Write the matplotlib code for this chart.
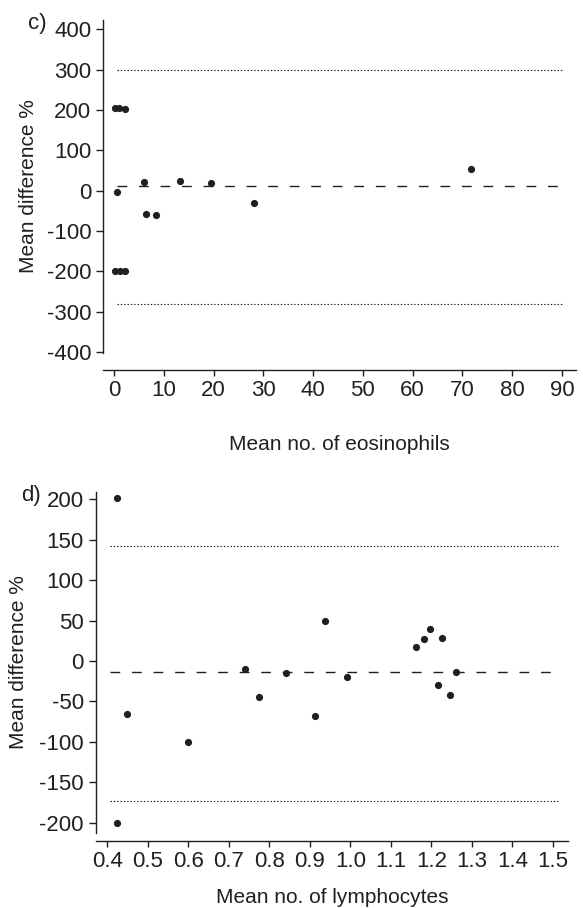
import matplotlib
matplotlib.use("Agg")
import matplotlib.pyplot as plt

plt.rcParams['font.family'] = ['Liberation Sans', 'DejaVu Sans']
plt.rcParams['axes.unicode_minus'] = False
INK = '#231f20'

# Panel c) eosinophils
eos_x = [0.2, 1.0, 2.2, 0.6, 0.3, 1.3, 2.3, 6.1, 6.4, 8.4, 13.2, 19.4, 28.1, 71.7]
eos_y = [205, 205, 202, -2, -200, -200, -200, 21, -57, -60, 25, 20, -30, 55]
eos_mean = 11
eos_upper = 300
eos_lower = -280
eos_xticks = [0, 10, 20, 30, 40, 50, 60, 70, 80, 90]
eos_yticks = [400, 300, 200, 100, 0, -100, -200, -300, -400]

# Panel d) lymphocytes
lym_x = [0.425, 0.425, 0.448, 0.599, 0.741, 0.775, 0.842, 0.914, 0.938, 0.991,
         1.162, 1.181, 1.197, 1.226, 1.216, 1.247, 1.261]
lym_y = [202, -200, -66, -100, -10, -45, -15, -68, 49, -20,
         17, 27, 39, 28, -30, -42, -13]
lym_mean = -14
lym_upper = 142
lym_lower = -173
lym_xticks = [0.4, 0.5, 0.6, 0.7, 0.8, 0.9, 1.0, 1.1, 1.2, 1.3, 1.4, 1.5]
lym_yticks = [200, 150, 100, 50, 0, -50, -100, -150, -200]

W, H = 583, 908
fig = plt.figure(figsize=(W / 100, H / 100), dpi=100)

TICK_FS = 16
LABEL_FS = 15


def px_axes(l, t, r, b):
    return fig.add_axes([l / W, 1 - b / H, (r - l) / W, (b - t) / H])


def style(ax, xoff):
    for s in ('top', 'right'):
        ax.spines[s].set_visible(False)
    for s in ('left', 'bottom'):
        ax.spines[s].set_color(INK)
        ax.spines[s].set_linewidth(1.0)
    ax.spines['bottom'].set_position(('outward', xoff))
    ax.tick_params(axis='both', direction='out', width=1.0,
                   colors=INK, labelsize=TICK_FS)
    ax.tick_params(axis='y', pad=3.5, length=5)
    ax.tick_params(axis='x', pad=3.5, length=4)


def draw(ax, xs, ys, mean, up, lo, x0, x1):
    ax.plot([x0, x1], [up, up], color=INK, lw=0.8, dashes=(1.3, 1.7))
    ax.plot([x0, x1], [lo, lo], color=INK, lw=0.8, dashes=(1.3, 1.7))
    ax.plot([x0, x1], [mean, mean], color=INK, lw=1.0, dashes=(7, 8.5))
    ax.plot(xs, ys, 'o', color=INK, ms=5.2, mec='none', ls='none')


# top panel
ax1 = px_axes(103, 20, 576, 353)
draw(ax1, eos_x, eos_y, eos_mean, eos_upper, eos_lower, 0.6, 90)
ax1.set_xlim(-2.2, 92.8)
ax1.set_ylim(-402, 423)
ax1.set_xticks(eos_xticks)
ax1.set_yticks(eos_yticks)
style(ax1, 12.2)
ax1.set_xlabel('Mean no. of eosinophils', fontsize=LABEL_FS, color=INK, labelpad=24)
ax1.set_ylabel('Mean difference %', fontsize=LABEL_FS, color=INK)
ax1.yaxis.set_label_coords(-0.138, 0.5)
fig.text(37 / W, 1 - 24 / H, 'c)', fontsize=TICK_FS, color=INK, ha='center', va='center')

# bottom panel
ax2 = px_axes(95.5, 491.7, 568.3, 833)
draw(ax2, lym_x, lym_y, lym_mean, lym_upper, lym_lower, 0.406, 1.513)
ax2.set_xlim(0.371, 1.538)
ax2.set_ylim(-212.7, 209.4)
ax2.set_xticks(lym_xticks)
ax2.set_xticklabels([f'{v:.1f}' for v in lym_xticks])
ax2.set_yticks(lym_yticks)
style(ax2, 5.8)
ax2.set_xlabel('Mean no. of lymphocytes', fontsize=LABEL_FS, color=INK, labelpad=11)
ax2.set_ylabel('Mean difference %', fontsize=LABEL_FS, color=INK)
ax2.yaxis.set_label_coords(-0.142, 0.5)
fig.text(31 / W, 1 - 496 / H, 'd)', fontsize=TICK_FS, color=INK, ha='center', va='center')

fig.savefig('out.png', dpi=100)
